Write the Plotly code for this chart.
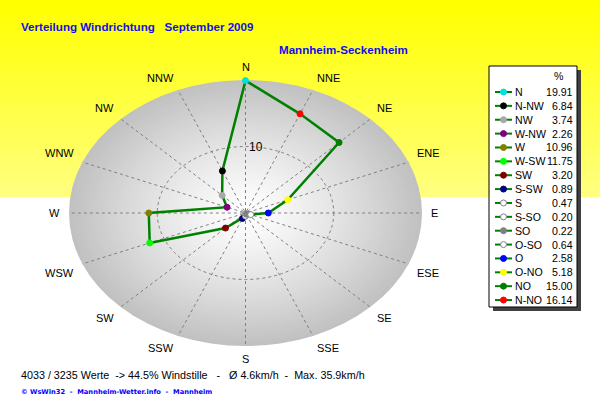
import numpy as np
import plotly.graph_objects as go

# ---------------- data ----------------
legend_labels = ["N", "N-NW", "NW", "W-NW", "W", "W-SW", "SW", "S-SW",
                 "S", "S-SO", "SO", "O-SO", "O", "O-NO", "NO", "N-NO"]
percent = [19.91, 6.84, 3.74, 2.26, 10.96, 11.75, 3.20, 0.89,
           0.47, 0.20, 0.22, 0.64, 2.58, 5.18, 15.00, 16.14]
dir_colors = ["#00E0E0", "#000000", "#A8A8A8", "#800080", "#808000", "#00FF00",
              "#800000", "#000080", "#FFFFFF", "#FFFFFF", "#808080", "#FFFFFF",
              "#0000FF", "#FFFF00", "#008000", "#FF0000"]
compass_labels = ["N", "NNE", "NE", "ENE", "E", "ESE", "SE", "SSE",
                  "S", "SSW", "SW", "WSW", "W", "WNW", "NW", "NNW"]
ring_values = [10]
r_max = 20

title_text = "Verteilung Windrichtung\u00a0\u00a0\u00a0September 2009"
station_text = "Mannheim-Seckenheim"
stats_text = ("4033 / 3235 Werte\u00a0\u00a0-> 44.5% Windstille\u00a0\u00a0\u00a0-\u00a0\u00a0\u00a0"
              "Ø 4.6km/h\u00a0\u00a0-\u00a0\u00a0Max. 35.9km/h")
footer_text = "© WsWin32\u00a0\u00a0-\u00a0\u00a0Mannheim-Wetter.info\u00a0\u00a0-\u00a0\u00a0Mannheim"

# ---------------- geometry helpers ----------------
W, H = 600, 412
cx_px, cy_px = 245.5, 213.0
rx_px, ry_px = 176.5, 133.0
ux = r_max / rx_px
uy = r_max / ry_px
x_range = [-cx_px * ux, (W - cx_px) * ux]
y_range = [-(H - cy_px) * uy, cy_px * uy]

# legend-order angles: counterclockwise from N (compass degrees)
leg_ang = np.deg2rad(-22.5 * np.arange(len(legend_labels)))
r = np.array(percent)
px = r * np.sin(leg_ang)
py = r * np.cos(leg_ang)

fig = go.Figure()

# closed polygon line
fig.add_trace(go.Scatter(
    x=np.append(px, px[0]), y=np.append(py, py[0]), mode="lines",
    line=dict(color="#008000", width=2.5), hoverinfo="skip", showlegend=False,
    xaxis="x", yaxis="y"))
# markers
edge_cols = ["#808080" if c == "#FFFFFF" else c for c in dir_colors]
fig.add_trace(go.Scatter(
    x=px, y=py, mode="markers",
    marker=dict(color=dir_colors, size=6, line=dict(color=edge_cols, width=1)),
    text=legend_labels, showlegend=False, xaxis="x", yaxis="y"))

shapes = []
# yellow background gradient (top)
n_strips = 24
yellow_bottom_px = 197
for i in range(n_strips):
    t = i / (n_strips - 1)
    b = int(round(0 + 125 * t))
    y_top = 1 - (i * yellow_bottom_px / n_strips) / H
    y_bot = 1 - ((i + 1) * yellow_bottom_px / n_strips) / H
    shapes.append(dict(type="rect", xref="paper", yref="paper", x0=0, x1=1,
                       y0=y_bot, y1=y_top + 0.002, fillcolor=f"rgb(255,255,{b})",
                       line=dict(width=0), layer="below"))

# radial gradient ellipse
n_rings = 45
for i in range(n_rings):
    rr = r_max * (1 - i / n_rings)
    t = rr / r_max
    g = int(round(255 - 62 * t ** 1.25))
    shapes.append(dict(type="circle", xref="x", yref="y", x0=-rr, x1=rr, y0=-rr, y1=rr,
                       fillcolor=f"rgb({g},{g},{g})", line=dict(width=0), layer="below"))

# rays
comp_ang = np.deg2rad(22.5 * np.arange(len(compass_labels)))
for a in comp_ang:
    shapes.append(dict(type="line", xref="x", yref="y",
                       x0=0.3 * np.sin(a), y0=0.3 * np.cos(a),
                       x1=r_max * np.sin(a), y1=r_max * np.cos(a),
                       line=dict(color="#808080", width=1, dash="3px,3px"), layer="below"))
# rings
for rv in ring_values:
    shapes.append(dict(type="circle", xref="x", yref="y", x0=-rv, x1=rv, y0=-rv, y1=rv,
                       line=dict(color="#808080", width=1, dash="3px,3px"), layer="below"))

# legend box (pixel coordinate axis x2/y2)
box = dict(x0=489, x1=577, y0=66, y1=307)
shapes.append(dict(type="rect", xref="x2", yref="y2", x0=box["x0"] + 4, x1=box["x1"] + 4,
                   y0=box["y0"] + 4, y1=box["y1"] + 4, fillcolor="#404040",
                   line=dict(width=0), layer="below"))
shapes.append(dict(type="rect", xref="x2", yref="y2", x0=box["x0"], x1=box["x1"],
                   y0=box["y0"], y1=box["y1"], fillcolor="#FFFFFF",
                   line=dict(color="#000000", width=1), layer="below"))

# legend swatches
row0, row_step = 92.0, 13.87
rows = row0 + row_step * np.arange(len(legend_labels))
lx, ly = [], []
for yv in rows:
    lx += [495, 512, None]
    ly += [yv, yv, None]
fig.add_trace(go.Scatter(x=lx, y=ly, mode="lines", line=dict(color="#008000", width=2),
                         hoverinfo="skip", showlegend=False, xaxis="x2", yaxis="y2"))
fig.add_trace(go.Scatter(x=[503.5] * len(rows), y=rows, mode="markers",
                         marker=dict(color=dir_colors, size=6, line=dict(color=edge_cols, width=1)),
                         hoverinfo="skip", showlegend=False, xaxis="x2", yaxis="y2"))

annotations = []
font_main = "Liberation Sans, Arial, sans-serif"
# compass labels, anchored at a corner on a slightly larger ellipse
lab_r = 20.9
eps = 1e-6
for lab, a in zip(compass_labels, comp_ang):
    s, c = np.sin(a), np.cos(a)
    xa = "right" if s < -eps else ("left" if s > eps else "center")
    ya = "bottom" if c > eps else ("top" if c < -eps else "middle")
    annotations.append(dict(x=lab_r * s, y=lab_r * c, xref="x", yref="y",
                            text=lab, showarrow=False, xanchor=xa, yanchor=ya, borderpad=0,
                            font=dict(family=font_main, size=11, color="#000000")))
# ring label
for rv in ring_values:
    annotations.append(dict(x=0, y=rv, xref="x", yref="y", text=str(rv), showarrow=False,
                            xanchor="center", yanchor="middle", xshift=10,
                            font=dict(family=font_main, size=12, color="#000000")))
# legend text
leg_font = dict(family=font_main, size=10.6, color="#000000")
annotations.append(dict(x=559, y=76, xref="x2", yref="y2", text="%", showarrow=False,
                        xanchor="center", yanchor="middle", font=leg_font))
for lab, val, yv in zip(legend_labels, percent, rows):
    annotations.append(dict(x=513, y=yv, xref="x2", yref="y2", text=lab, showarrow=False,
                            xanchor="left", yanchor="middle", font=leg_font))
    annotations.append(dict(x=575, y=yv, xref="x2", yref="y2", text=f"{val:.2f}", showarrow=False,
                            xanchor="right", yanchor="middle", font=leg_font))
# titles
annotations.append(dict(x=19, y=26, xref="x2", yref="y2", text=f"<b>{title_text}</b>",
                        showarrow=False, xanchor="left", yanchor="middle",
                        font=dict(family=font_main, size=11.6, color="#1010E8")))
annotations.append(dict(x=277, y=49, xref="x2", yref="y2", text=f"<b>{station_text}</b>",
                        showarrow=False, xanchor="left", yanchor="middle",
                        font=dict(family=font_main, size=11.6, color="#1010E8")))
annotations.append(dict(x=19, y=375, xref="x2", yref="y2", text=stats_text,
                        showarrow=False, xanchor="left", yanchor="middle",
                        font=dict(family=font_main, size=10.75, color="#000000")))
annotations.append(dict(x=19, y=392, xref="x2", yref="y2", text=f"<b>{footer_text}</b>",
                        showarrow=False, xanchor="left", yanchor="middle",
                        font=dict(family="DejaVu Sans, sans-serif", size=6.7, color="#0000FF")))

fig.update_layout(
    width=W, height=H, margin=dict(l=0, r=0, t=0, b=0),
    paper_bgcolor="#FFFFFF", plot_bgcolor="rgba(0,0,0,0)",
    xaxis=dict(domain=[0, 1], range=x_range, visible=False, fixedrange=True),
    yaxis=dict(domain=[0, 1], range=y_range, visible=False, fixedrange=True),
    xaxis2=dict(domain=[0, 1], range=[0, W], visible=False, fixedrange=True, anchor="y2"),
    yaxis2=dict(domain=[0, 1], range=[H, 0], visible=False, fixedrange=True, anchor="x2"),
    shapes=shapes, annotations=annotations, showlegend=False, hovermode=False,
)

fig.write_html("out.html", config={"displayModeBar": False},
               post_script="document.body.style.margin='0';document.body.style.overflow='hidden';")
